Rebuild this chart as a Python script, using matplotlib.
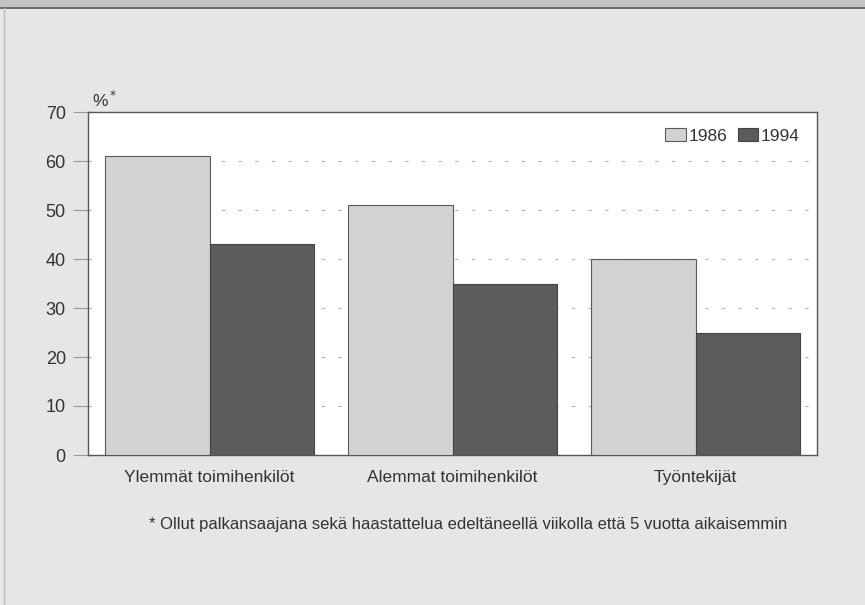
import numpy as np
import matplotlib
matplotlib.use("Agg")
import matplotlib.pyplot as plt
from matplotlib.patches import Rectangle
from matplotlib.lines import Line2D

categories = ["Ylemmät toimihenkilöt", "Alemmat toimihenkilöt", "Työntekijät"]
years = ["1986", "1994"]
values_1986 = [61, 51, 40]
values_1994 = [43, 35, 25]
yticks = [0, 10, 20, 30, 40, 50, 60, 70]

plt.rcParams['font.family'] = ['Liberation Sans', 'DejaVu Sans']

bg = "#e6e6e6"
fig = plt.figure(figsize=(8.65, 6.05), dpi=100, facecolor=bg)

# top band and frame lines
fig.add_artist(Rectangle((0, 1 - 7 / 605), 1, 7 / 605, transform=fig.transFigure,
                         facecolor="#c4c4c4", edgecolor="none"))
fig.add_artist(Line2D([0, 1], [1 - 8 / 605, 1 - 8 / 605], transform=fig.transFigure,
                      color="#555555", lw=1.2))
fig.add_artist(Line2D([4 / 865, 4 / 865], [0, 1 - 8 / 605], transform=fig.transFigure,
                      color="#bbbbbb", lw=1.0))

ax = fig.add_axes([88 / 865, 1 - 455 / 605, (817 - 88) / 865, (455 - 112) / 605])
ax.set_facecolor("white")

x = np.arange(len(categories))
w = 0.428
ax.bar(x - w / 2, values_1986, w, color="#d2d2d2", edgecolor="#5a5a5a", lw=0.8,
       label=years[0], zorder=3)
ax.bar(x + w / 2, values_1994, w, color="#5c5c5c", edgecolor="#444444", lw=0.8,
       label=years[1], zorder=3)

ax.set_xlim(-0.5, 2.5)
ax.set_ylim(0, 70)
ax.set_yticks(yticks)
ax.set_xticks(x)
ax.set_xticklabels(categories, fontsize=12.5, color="#333333")
ax.tick_params(axis="x", length=0, pad=11)
ax.tick_params(axis="y", length=11, width=0.8, color="#999999", labelsize=13,
               labelcolor="#333333", pad=5)
for yv in yticks[1:-1]:
    ax.axhline(yv, color="#b0b0b0", lw=0.8, ls=(0, (3, 12)), zorder=1)
for s in ax.spines.values():
    s.set_color("#555555")
    s.set_linewidth(1.0)

ax.legend(loc="upper right", ncol=2, frameon=False, fontsize=12.5, handlelength=1.2,
          handleheight=0.85, handletextpad=0.15, columnspacing=0.6,
          bbox_to_anchor=(0.998, 1.0), borderaxespad=0.5, labelcolor="#333333")

fig.text(92 / 865, 1 - 100 / 605, "%$^*$", fontsize=12.5, color="#333333", va="center")
fig.text(468 / 865, 1 - 525 / 605,
         "* Ollut palkansaajana sekä haastattelua edeltäneellä viikolla että 5 vuotta aikaisemmin",
         fontsize=12, color="#333333", ha="center", va="center")

fig.savefig("out.png", dpi=100, facecolor=bg)
